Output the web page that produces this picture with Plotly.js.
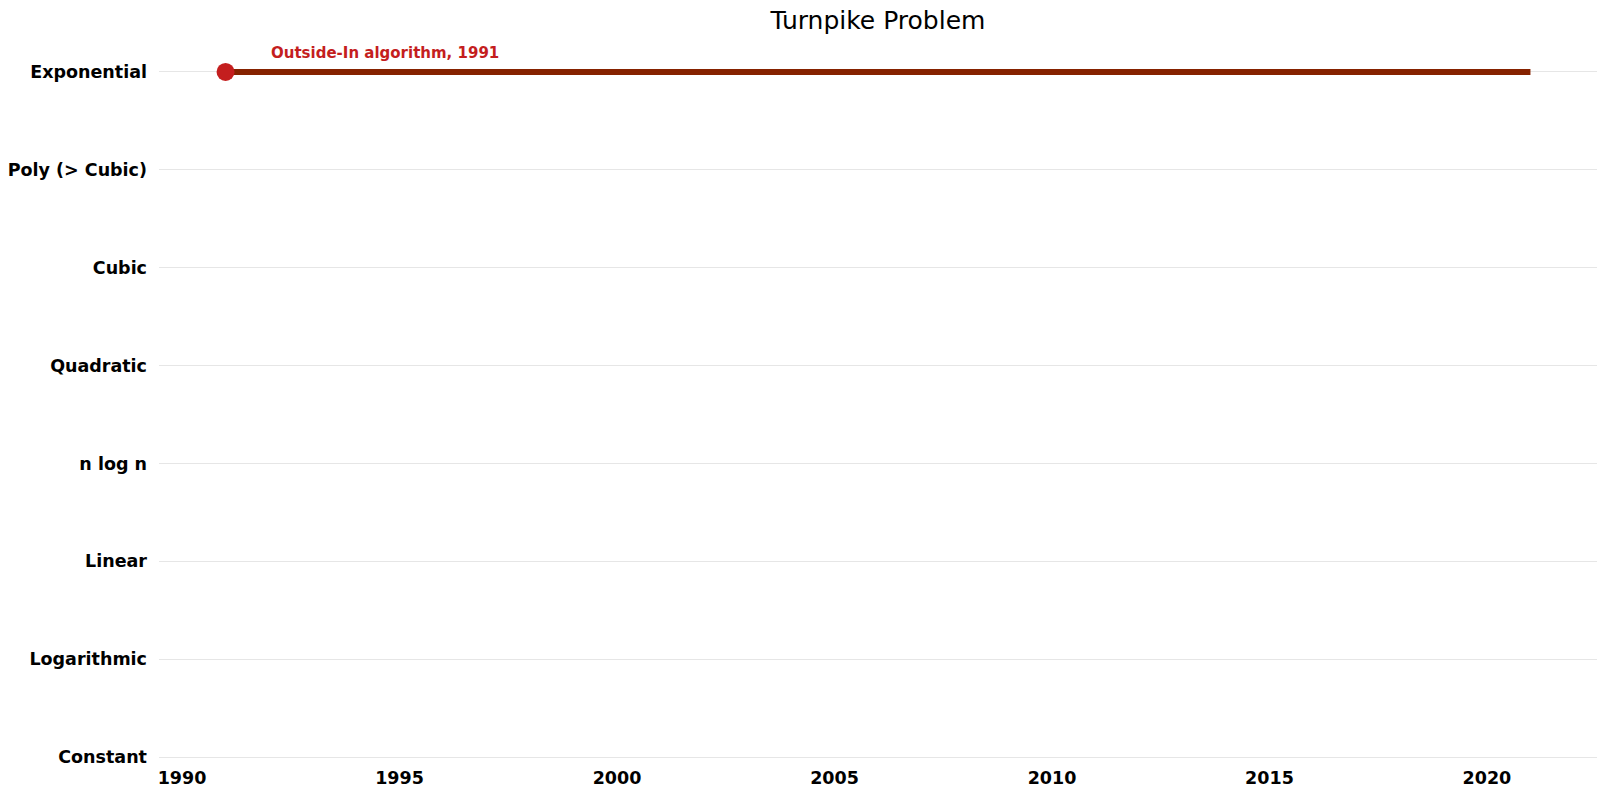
<!DOCTYPE html>
<html><head><meta charset="utf-8">
<script src="https://cdn.plot.ly/plotly-3.0.1.min.js"></script>
<style>html,body{margin:0;padding:0;background:#fff}#chart{width:1605px;height:795px}</style>
</head><body><div id="chart"></div>
<script>
var categories = ["Constant","Logarithmic","Linear","n log n","Quadratic","Cubic","Poly (> Cubic)","Exponential"];
var lineYears = [1991, 2021];
var lineLevels = ["Exponential","Exponential"];
var pointYears = [1991];
var pointLevels = ["Exponential"];
var pointLabels = ["Outside-In algorithm, 1991"];
var xTicks = [1990,1995,2000,2005,2010,2015,2020];

function idx(c){return categories.indexOf(c);}

var traces = [
  {x: lineYears, y: lineLevels.map(idx), type:'scatter', mode: 'lines', line:{color:'#862200', width:6, shape:'linear'}, hoverinfo:'skip', cliponaxis:false},
  {x: pointYears, y: pointLevels.map(idx), type:'scatter', mode: 'markers', marker:{color:'#C41E1E', size:18, line:{width:0}}, cliponaxis:false}
];

var annotations = pointYears.map(function(yr,i){
  return {x: yr+1, y: idx(pointLevels[i]), yshift: 19, xanchor:'left', yanchor:'middle', text: pointLabels[i], showarrow:false,
    font:{family:'DejaVu Sans', size:15, color:'#C41E1E', weight:'bold'}};
});

var layout = {
  width:1605, height:795,
  margin:{l:159, r:8, t:67, b:33},
  paper_bgcolor:'#fff', plot_bgcolor:'#fff',
  showlegend:false,
  title:{text:'Turnpike Problem', x:0.547, xanchor:'center', y:0.975, yanchor:'middle', font:{family:'DejaVu Sans', size:25, color:'#000'}},
  xaxis:{range:[1989.47,2022.53], tickvals:xTicks, ticktext:xTicks.map(String), showgrid:false, zeroline:false, showline:false, ticks:'',
    tickfont:{family:'DejaVu Sans', size:17.5, color:'#000', weight:'bold'}, ticklabelstandoff:3},
  yaxis:{range:[-0.05,7.05], tickvals:categories.map(function(c,i){return i;}), ticktext:categories, showgrid:true, gridcolor:'#e6e6e6', gridwidth:1, zeroline:false, showline:false, ticks:'',
    tickfont:{family:'DejaVu Sans', size:17.5, color:'#000', weight:'bold'}, ticklabelstandoff:11},
  annotations: annotations
};
Plotly.newPlot('chart', traces, layout, {displayModeBar:false, staticPlot:true});
</script></body></html>
